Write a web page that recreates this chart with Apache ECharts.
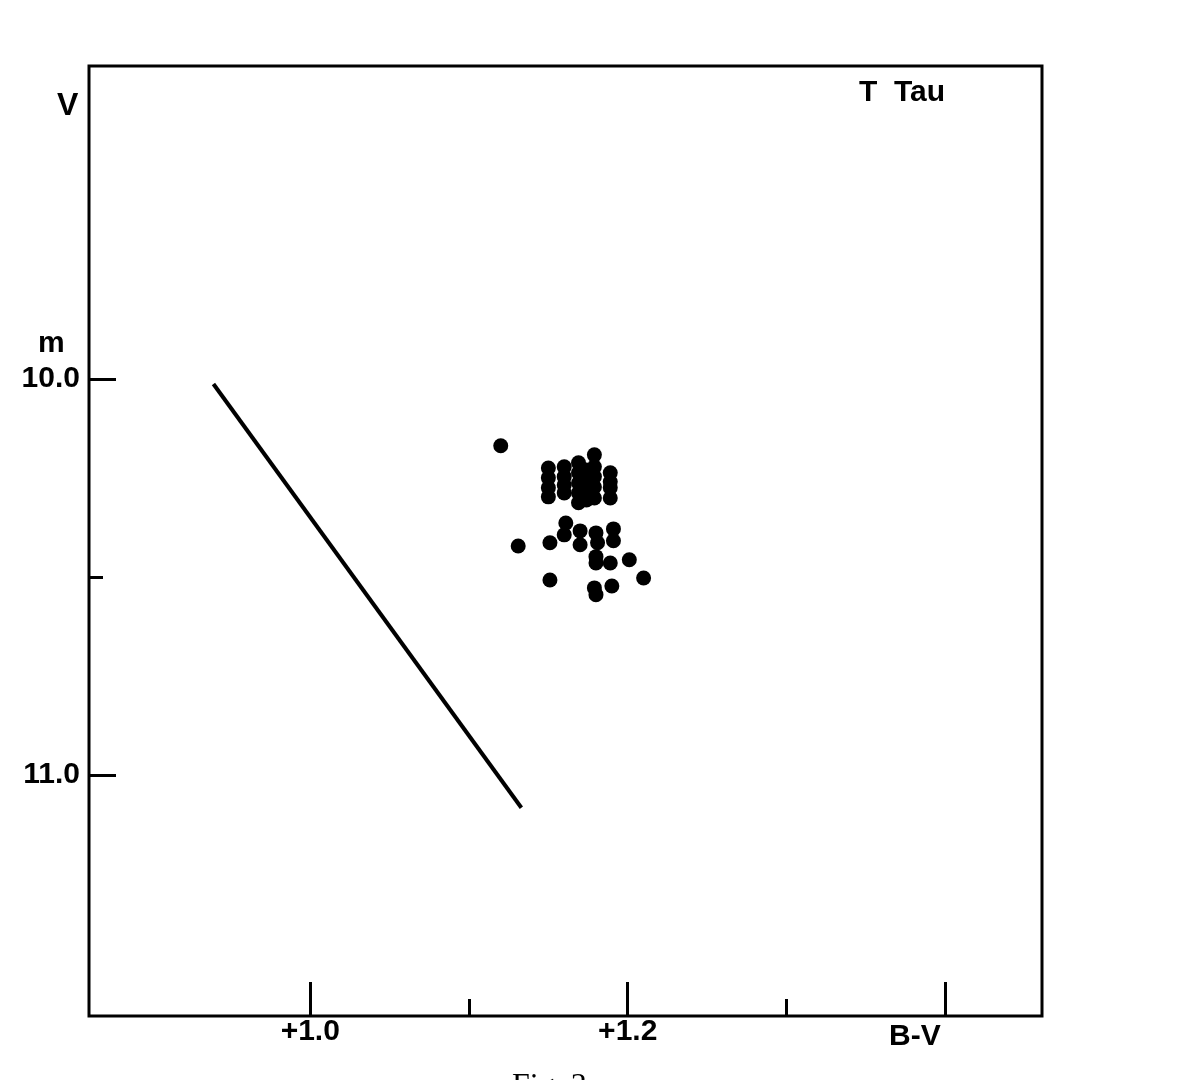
<!DOCTYPE html>
<html>
<head>
<meta charset="utf-8">
<script src="https://cdn.jsdelivr.net/npm/echarts@6/dist/echarts.min.js"></script>
<style>html,body{margin:0;padding:0;background:#fff;}#c{width:1184px;height:1080px;}</style>
</head>
<body>
<div id="c"></div>
<script>
// B-V colour index and V magnitude of the T Tau observations
const bvValues = [1.120, 1.131,
  1.150, 1.150, 1.150, 1.150,
  1.160, 1.160, 1.160, 1.160,
  1.169, 1.169, 1.169, 1.169, 1.169,
  1.174, 1.174, 1.174, 1.174,
  1.179, 1.179, 1.179, 1.179, 1.179,
  1.189, 1.189, 1.189, 1.189,
  1.161, 1.160, 1.151, 1.170, 1.170, 1.180, 1.181, 1.191, 1.191,
  1.180, 1.180, 1.189, 1.201, 1.151, 1.210, 1.179, 1.180, 1.190];
const vValues = [10.169, 10.422,
  10.225, 10.250, 10.275, 10.298,
  10.222, 10.247, 10.268, 10.288,
  10.212, 10.237, 10.263, 10.288, 10.313,
  10.230, 10.255, 10.280, 10.306,
  10.192, 10.222, 10.247, 10.273, 10.301,
  10.237, 10.260, 10.275, 10.301,
  10.364, 10.394, 10.414, 10.384, 10.419, 10.389, 10.414, 10.379, 10.409,
  10.449, 10.465, 10.465, 10.457, 10.508, 10.503, 10.528, 10.545, 10.523];
// straight reference line
const lineBV = [0.939, 1.133];
const lineV = [10.013, 11.083];
// axis ticks
const xMajorTicks = [1.0, 1.2, 1.4];
const xMinorTicks = [1.1, 1.3];
const xLabelValues = [1.0, 1.2];
const xLabelText = {'1': '+1.0', '1.2': '+1.2'};
const yMajorTicks = [10.0, 11.0];
const yMinorTicks = [10.5];
const yLabelText = {'10': '10.0', '11': '11.0'};

const pts = bvValues.map((b, i) => [b, vValues[i]]);
const linePts = lineBV.map((b, i) => [b, lineV[i]]);

const X_MIN = 0.8606, X_MAX = 1.461, Y_MIN = 9.21, Y_MAX = 11.609;
const font = 'Liberation Sans, Arial, sans-serif';

const chart = echarts.init(document.getElementById('c'), null, {renderer: 'canvas'});
chart.setOption({
  animation: false,
  backgroundColor: '#fff',
  grid: {left: 89, right: 142, top: 66, bottom: 64, show: true, borderColor: '#000', borderWidth: 3, backgroundColor: 'transparent'},
  xAxis: [
    {type: 'value', min: X_MIN, max: X_MAX, position: 'bottom',
      axisLine: {show: false}, splitLine: {show: false},
      axisTick: {show: true, inside: true, length: 34, customValues: xMajorTicks, lineStyle: {color: '#000', width: 3}},
      axisLabel: {show: true, customValues: xLabelValues, margin: 1, color: '#000', fontSize: 30, fontWeight: 'bold', fontFamily: font,
        formatter: v => xLabelText[String(+v.toFixed(2))] || ''}},
    {type: 'value', min: X_MIN, max: X_MAX, position: 'bottom',
      axisLine: {show: false}, splitLine: {show: false},
      axisTick: {show: true, inside: true, length: 17, customValues: xMinorTicks, lineStyle: {color: '#000', width: 3}},
      axisLabel: {show: false}}
  ],
  yAxis: [
    {type: 'value', inverse: true, min: Y_MIN, max: Y_MAX, position: 'left',
      axisLine: {show: false}, splitLine: {show: false},
      axisTick: {show: true, inside: true, length: 27, customValues: yMajorTicks, lineStyle: {color: '#000', width: 3}},
      axisLabel: {show: true, customValues: yMajorTicks, margin: 9, color: '#000', fontSize: 30, fontWeight: 'bold', fontFamily: font,
        formatter: v => yLabelText[String(+v.toFixed(2))] || ''}},
    {type: 'value', inverse: true, min: Y_MIN, max: Y_MAX, position: 'left',
      axisLine: {show: false}, splitLine: {show: false},
      axisTick: {show: true, inside: true, length: 14, customValues: yMinorTicks, lineStyle: {color: '#000', width: 3}},
      axisLabel: {show: false}}
  ],
  series: [
    {type: 'line', data: linePts, showSymbol: false, symbol: 'none', lineStyle: {color: '#000', width: 4}},
    {type: 'scatter', data: pts, symbol: 'circle', symbolSize: 15, itemStyle: {color: '#000', opacity: 1}}
  ],
  graphic: [
    {type: 'text', left: 57, top: 90, style: {text: 'V', fontSize: 32, fontWeight: 'bold', fontFamily: font, fill: '#000'}},
    {type: 'text', left: 38, top: 329, style: {text: 'm', fontSize: 30, fontWeight: 'bold', fontFamily: font, fill: '#000'}},
    {type: 'text', left: 859, top: 78, style: {text: 'T  Tau', fontSize: 30, fontWeight: 'bold', fontFamily: font, fill: '#000'}},
    {type: 'text', left: 889, top: 1022, style: {text: 'B-V', fontSize: 30, fontWeight: 'bold', fontFamily: font, fill: '#000'}},
    {type: 'text', left: 512, top: 1071, style: {text: 'Fig. 3', fontSize: 32, fontFamily: 'Liberation Serif, serif', fill: '#000'}}
  ]
});
</script>
</body>
</html>
